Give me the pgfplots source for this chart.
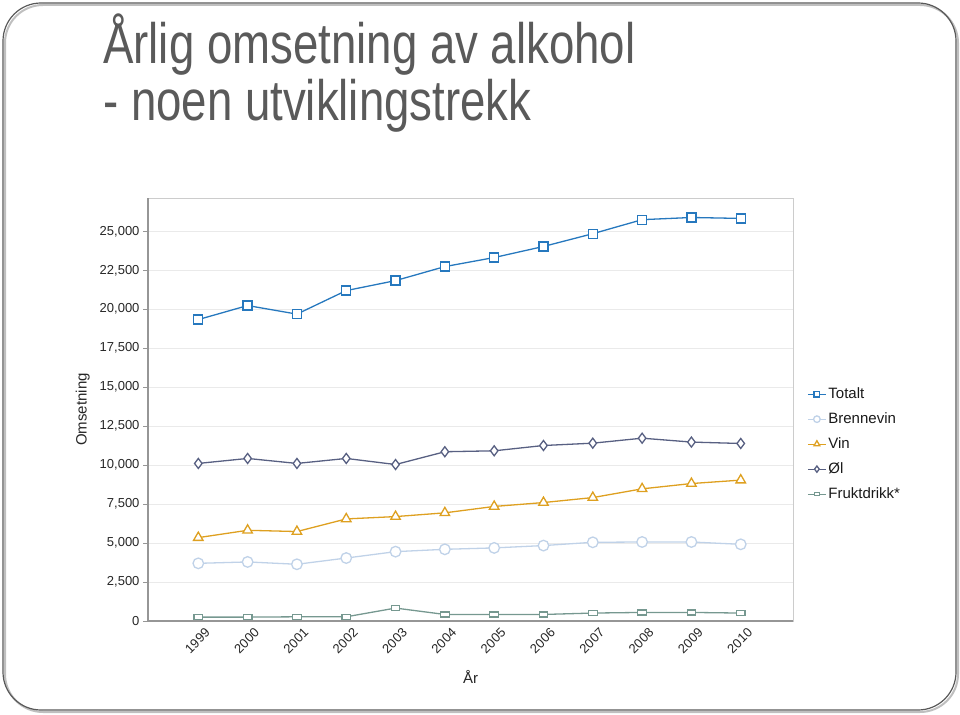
\documentclass[border=0pt]{standalone}
\usepackage{pgfplots}
\pgfplotsset{compat=1.18}
\usepackage{fontspec}
\setmainfont{Liberation Sans}
\newfontfamily\titlefont[FakeStretch=0.80]{Liberation Sans}
\definecolor{ctot}{RGB}{38,120,190}
\definecolor{cbren}{RGB}{192,210,232}
\definecolor{cvin}{RGB}{222,160,32}
\definecolor{col}{RGB}{88,96,130}
\definecolor{cfrukt}{RGB}{118,152,144}
\definecolor{ctitle}{RGB}{90,90,90}
\definecolor{cgrid}{RGB}{234,234,234}
\definecolor{caxis}{RGB}{150,150,150}
\begin{document}
\begin{tikzpicture}
\path[use as bounding box] (0pt,0pt) rectangle (960pt,-714pt);
\draw[black!25, line width=2pt, rounded corners=38pt] (5pt,-5pt) rectangle (958pt,-712pt);
\draw[black!65, line width=1.2pt, rounded corners=38pt] (3pt,-3pt) rectangle (956pt,-710pt);
\node[anchor=base west, inner sep=0pt, text=ctitle, font=\titlefont\fontsize{57}{57}\selectfont] at (103pt,-64pt) {Årlig omsetning av alkohol};
\node[anchor=base west, inner sep=0pt, text=ctitle, font=\titlefont\fontsize{57}{57}\selectfont] at (103pt,-121pt) {- noen utviklingstrekk};
\begin{axis}[
  at={(148pt,-621pt)}, anchor=south west,
  scale only axis, width=645pt, height=423pt,
  xmin=-1.02, xmax=12.06, ymin=0, ymax=27140,
  xtick={0,...,11},
  xticklabels={1999,2000,2001,2002,2003,2004,2005,2006,2007,2008,2009,2010},
  ytick={0,2500,...,25000},
  scaled y ticks=false,
  /pgf/number format/.cd, fixed, 1000 sep={,}, assume math mode=true,
  /pgfplots/.cd,
  tick pos=left, tick align=outside, major tick length=5pt,
  tick style={caxis, line width=0.8pt},
  xtick style={draw=none},
  ymajorgrids, grid style={cgrid, line width=1pt},
  axis line style={black!20, line width=1pt},
  every tick label/.append style={font=\fontsize{13}{13}\selectfont, text=black!85},
  x tick label style={rotate=45, anchor=north east, inner sep=1pt, xshift=4.5pt, yshift=-4pt},
  xlabel={År}, ylabel={Omsetning},
  label style={font=\fontsize{15}{15}\selectfont, text=black!85},
  xlabel style={at={(axis description cs:0.5,-0.132)}, anchor=center},
  ylabel style={at={(axis description cs:-0.101,0.5)}, anchor=center},
  legend style={at={(axis description cs:1.022,0.556)}, anchor=north west, draw=none, fill=none,
    inner sep=0pt, font=\fontsize{15}{15}\selectfont, row sep=8.6pt, text=black!90},
  legend cell align=left,
  legend image code/.code={\draw[mark repeat=2,mark phase=2, line width=1pt, every mark/.append style={scale=0.62}] plot coordinates {(0pt,0pt) (9pt,0pt) (18pt,0pt)};},
  after end axis/.code={\draw[caxis, line width=1.2pt] (rel axis cs:0,1) -- (rel axis cs:0,0) -- (rel axis cs:1,0);},
]
\addplot[ctot, line width=1.3pt, mark=square*, mark size=4.5pt, mark options={fill=white, line width=1.3pt}] coordinates {
(0,19340) (1,20240) (2,19690) (3,21200) (4,21840) (5,22740) (6,23320) (7,24030) (8,24850) (9,25750) (10,25890) (11,25830)};
\addlegendentry{Totalt}
\addplot[cbren, line width=1.3pt, mark=*, mark size=5.3pt, mark options={fill=white, line width=1.3pt}] coordinates {
(0,3700) (1,3790) (2,3640) (3,4040) (4,4450) (5,4600) (6,4690) (7,4840) (8,5050) (9,5070) (10,5070) (11,4920)};
\addlegendentry{Brennevin}
\addplot[cvin, line width=1.3pt, mark=triangle*, mark size=5.5pt, mark options={fill=white, line width=1.3pt}] coordinates {
(0,5350) (1,5820) (2,5740) (3,6550) (4,6700) (5,6940) (6,7350) (7,7600) (8,7920) (9,8480) (10,8820) (11,9040)};
\addlegendentry{Vin}
\addplot[col, line width=1.3pt, mark=diamond*, mark size=5pt, mark options={fill=white, line width=1.3pt}] coordinates {
(0,10110) (1,10430) (2,10110) (3,10430) (4,10040) (5,10860) (6,10920) (7,11260) (8,11410) (9,11730) (10,11480) (11,11390)};
\addlegendentry{Øl}
\addplot[cfrukt, line width=1.3pt, mark=square*, mark size=3.6pt, mark options={fill=white, line width=1.2pt, xscale=1.2, yscale=0.7}] coordinates {
(0,250) (1,250) (2,270) (3,270) (4,830) (5,420) (6,420) (7,420) (8,510) (9,550) (10,550) (11,510)};
\addlegendentry{Fruktdrikk*}
\end{axis}
\end{tikzpicture}
\end{document}
